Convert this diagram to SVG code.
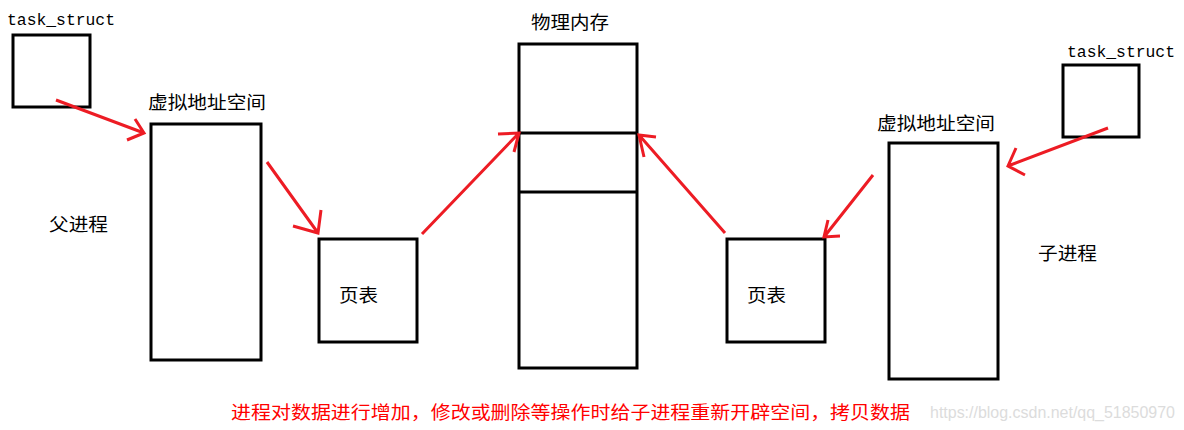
<svg xmlns="http://www.w3.org/2000/svg" width="1184" height="430" viewBox="0 0 1184 430">
<style>
.box{fill:none;stroke:#000;stroke-width:3}
.arr{fill:none;stroke:#ed1c24;stroke-width:3;stroke-linecap:butt;stroke-linejoin:miter}
.mono{font-family:"Liberation Mono","DejaVu Sans Mono",monospace;font-size:16px;fill:#000}
.cjk{font-family:"Noto Sans CJK SC","Noto Sans",sans-serif;font-size:18px;fill:#000}
.note{font-family:"Noto Sans CJK SC","Noto Sans",sans-serif;font-size:18px;fill:#ff0000}
.wm{font-family:"Liberation Sans",Arial,sans-serif;font-size:16px;fill:#dcdcdc}
</style>
<rect width="1184" height="430" fill="#fff"/>
<g id="parent-task">
<text class="mono" x="7" y="25" textLength="108" lengthAdjust="spacingAndGlyphs">task_struct</text>
<rect class="box" x="13" y="35" width="77" height="72"/>
</g>
<g id="parent-vas">
<text class="cjk" x="148" y="109" textLength="118" lengthAdjust="spacingAndGlyphs">虚拟地址空间</text>
<rect class="box" x="151" y="124" width="110" height="236"/>
</g>
<g id="parent-label">
<text class="cjk" x="49" y="231" textLength="59" lengthAdjust="spacingAndGlyphs">父进程</text>
</g>
<g id="parent-pt">
<rect class="box" x="319" y="239" width="98" height="103"/>
<text class="cjk" x="339" y="302" textLength="39" lengthAdjust="spacingAndGlyphs">页表</text>
</g>
<g id="phys-mem">
<text class="cjk" x="531" y="29" textLength="78" lengthAdjust="spacingAndGlyphs">物理内存</text>
<rect class="box" x="519" y="44" width="118" height="324"/>
<line class="box" x1="519" y1="133" x2="637" y2="133"/>
<line class="box" x1="519" y1="192" x2="637" y2="192"/>
</g>
<g id="child-pt">
<rect class="box" x="727" y="239" width="98" height="103"/>
<text class="cjk" x="747" y="302" textLength="39" lengthAdjust="spacingAndGlyphs">页表</text>
</g>
<g id="child-vas">
<text class="cjk" x="877" y="130" textLength="118" lengthAdjust="spacingAndGlyphs">虚拟地址空间</text>
<rect class="box" x="889" y="143" width="109" height="236"/>
</g>
<g id="child-label">
<text class="cjk" x="1038" y="260" textLength="59" lengthAdjust="spacingAndGlyphs">子进程</text>
</g>
<g id="child-task">
<text class="mono" x="1067" y="57" textLength="108" lengthAdjust="spacingAndGlyphs">task_struct</text>
<rect class="box" x="1063" y="65" width="76" height="72"/>
</g>
<g id="connectors">
<path class="arr" d="M56,100 L144,133 M135,119 L144,133 L127,140"/>
<path class="arr" d="M267,162 L318,233 M321,210 L318,233 L293,226"/>
<path class="arr" d="M422,234 L519,133 M498,134 L519,133 L514,152"/>
<path class="arr" d="M725,233 L639,135 M656,137 L639,135 L644,157"/>
<path class="arr" d="M873,175 L824,237 M828,220 L824,237 L840,236"/>
<path class="arr" d="M1108,128 L1008,166 M1016,148 L1008,166 L1025,175"/>
</g>
<g id="note">
<text class="note" x="231" y="419" textLength="679" lengthAdjust="spacingAndGlyphs">进程对数据进行增加，修改或删除等操作时给子进程重新开辟空间，拷贝数据</text>
<text class="wm" x="930" y="418" textLength="245" lengthAdjust="spacingAndGlyphs">https://blog.csdn.net/qq_51850970</text>
</g>
</svg>
